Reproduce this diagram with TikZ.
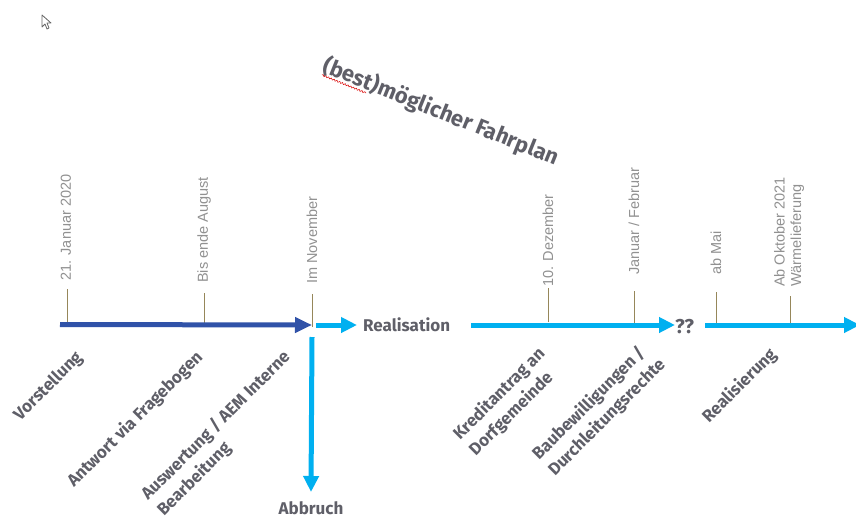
\documentclass[tikz,border=0pt]{standalone}
\usepackage{fontspec}
\setmainfont{Liberation Sans}
\newfontfamily\phasefont{Fira Sans}
\usetikzlibrary{arrows.meta,positioning,decorations.pathmorphing}

\definecolor{darkblue}{RGB}{48,82,168}
\definecolor{lightblue}{RGB}{0,176,240}
\definecolor{textgray}{RGB}{95,95,104}
\definecolor{dategray}{RGB}{145,145,145}
\definecolor{tickcol}{RGB}{150,135,90}

\tikzset{
  date/.style={rotate=90, anchor=west, inner sep=0pt, text=dategray, align=left,
    font=\fontsize{14.5}{16.5}\selectfont},
  phase/.style={rotate=45, anchor=north west, inner sep=0pt, text=textgray, align=left,
    font=\phasefont\bfseries\fontsize{17}{22.5}\selectfont},
  tickline/.style={draw=tickcol, line width=1pt},
  oldaxis/.style={draw=darkblue, line width=5pt, -{Triangle[width=15pt,length=17pt]}},
  newaxis/.style={draw=lightblue, line width=5pt, -{Triangle[width=15pt,length=16pt]}},
}

\begin{document}
\begin{tikzpicture}[x=1pt,y=-1pt]
    \useasboundingbox[fill=white] (0,0) rectangle (856,517);

    % mouse pointer
    \draw[gray!80!black, fill=white, line width=0.8pt, line join=round]
        (42,15) -- (42,27) -- (45,24) -- (47,29) -- (49,28) -- (47,23) -- (51,23) -- cycle;

    % title
    \node[rotate=-22, inner sep=0pt, text=textgray, font=\phasefont\bfseries\fontsize{22}{26}\selectfont]
        (title) at (441,112) {(best)möglicher Fahrplan};
    \draw[red!85!black, line width=0.5pt, decorate, decoration={snake, amplitude=0.8pt, segment length=3pt}]
        (322,75) -- (366,93);  % spelling mark

    % points on the time axis
    \coordinate (start) at (60,324.5);
    \coordinate (decide) at (312,325);
    \coordinate (stop) at (860,325);
    \coordinate (k1) at (67,322);
    \coordinate (k2) at (204,324);
    \coordinate (k3) at (312,327);
    \coordinate (k4) at (548,322);
    \coordinate (k5) at (634,325);
    \coordinate (k6) at (716,324);
    \coordinate (k7) at (790,328);

    % ticks
    \draw[tickline] (k1) -- ++(0,-33);
    \draw[tickline] (k2) -- ++(0,-31);
    \draw[tickline] (k3) -- ++(0,-33);
    \draw[tickline] (k4) -- ++(0,-34);
    \draw[tickline] (k5) -- ++(0,-34);
    \draw[tickline] (k6) -- ++(0,-32);
    \draw[tickline] (k7) -- ++(0,-32);

    % dates
    \node[date] (d1) at (66,281) {21. Januar 2020};
    \node[date] (d2) at (204,283) {Bis ende August};
    \node[date] (d3) at (312,284) {Im November};
    \node[date] (d4) at (548,287) {10. Dezember};
    \node[date] (d5) at (634,275) {Januar / Februar};
    \node[date] (d6) at (716,275) {ab Mai};
    \node[date] (d7) at (789,287) {Ab Oktober 2021\\Wärmelieferung};

    % phases below the axis
    \node[phase] (vor) at (11,412) {Vorstellung};
    \node[phase] (ant) at (64,478) {Antwort via Fragebogen};
    \node[phase] (aus) at (138,491) {Auswertung / AEM Interne\\Bearbeitung};
    \node[phase] (kre) at (450,431) {Kreditantrag an\\Dorfgemeinde};
    \node[phase] (bau) at (529,451) {Baubewilligungen /\\Durchleitungsrechte};
    \node[phase] (rea) at (699,414) {Realisierung};

    % decision
    \node[anchor=west, inner sep=0pt, text=textgray, font=\phasefont\bfseries\fontsize{17}{20}\selectfont]
        (real) at (363,325) {Realisation};
    \node[anchor=north, inner sep=0pt, text=textgray, font=\phasefont\bfseries\fontsize{17}{20}\selectfont]
        (abb) at (311,501) {Abbruch};
    \node[anchor=west, inner sep=0pt, text=textgray, font=\phasefont\bfseries\fontsize{20}{22}\selectfont]
        (qq) at (675,327) {??};

    % arrows
    \draw[oldaxis] (start) -- (decide);
    \draw[newaxis] ([xshift=4pt]decide) -- ([xshift=-6pt]real.west);
    \draw[newaxis] ([yshift=-12pt]decide) -- ([yshift=9pt]abb.north);
    \draw[newaxis, shorten <=21pt] (real.east |- decide) -- (qq.west |- decide);
    \draw[newaxis, shorten <=11pt] (qq.east |- decide) -- (stop);
\end{tikzpicture}
\end{document}
